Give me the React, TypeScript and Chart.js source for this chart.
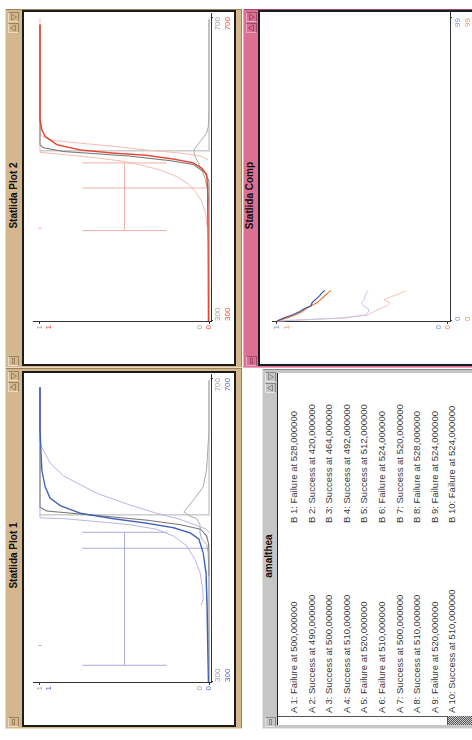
import React, { useEffect, useRef } from 'react';
import { Chart, registerables } from 'chart.js';

Chart.register(...registerables);

// ---------------- data: Statlida Plot 1 (blue) ----------------
const P1_MAIN_X = [300, 350, 404, 444, 470, 488, 496, 503, 509, 515, 522, 532, 542, 557, 580, 606, 632, 688];
const P1_MAIN_Y = [0.004, 0.007, 0.012, 0.018, 0.035, 0.06, 0.11, 0.21, 0.37, 0.57, 0.76, 0.88, 0.94, 0.97, 0.99, 0.995, 1.0, 1.0];
const P1_REF_X = [300, 470, 481, 492, 501, 507, 513, 519, 525, 530, 688];
const P1_REF_Y = [0, 0, 0.002, 0.014, 0.05, 0.17, 0.37, 0.66, 0.96, 1.0, 1.0];
const P1_STEP_X = [520, 520, 697];
const P1_STEP_Y = [1.0, 0, 0];
const P1_DENS_X = [440, 470, 481, 488, 496, 507, 515, 519, 524, 529, 542, 557, 580, 632, 697];
const P1_DENS_Y = [0, 0.005, 0.014, 0.043, 0.053, 0.053, 0.073, 0.12, 0.148, 0.13, 0.083, 0.034, 0.014, 0, 0];
const P1_UPPER_X = [401, 409, 422, 444, 461, 479, 492, 501, 507, 511, 515, 516, 612];
const P1_UPPER_Y = [0.047, 0.034, 0.037, 0.053, 0.083, 0.13, 0.21, 0.31, 0.47, 0.66, 0.86, 1.0, 1.0];
const P1_LOWER_X = [496, 501, 506, 514, 522, 533, 548, 571, 588, 605, 614, 688];
const P1_LOWER_Y = [0, 0.014, 0.073, 0.17, 0.31, 0.47, 0.66, 0.86, 0.94, 0.98, 1.0, 1.0];
const P1_INTERVAL = [322, 497];
const P1_MARKER = 476;
const P1_DOT_X = 348;

// ---------------- data: Statlida Plot 2 (red) ----------------
const P2_MAIN_X = [300, 400, 450, 477, 493, 501, 508, 513, 518, 521, 525, 532, 543, 552, 565, 690];
const P2_MAIN_Y = [0.004, 0.005, 0.007, 0.009, 0.014, 0.043, 0.093, 0.21, 0.37, 0.57, 0.76, 0.9, 0.97, 0.99, 1.0, 1.0];
const P2_REF_X = [300, 484, 495, 506, 511, 517, 520, 523, 528, 532, 690];
const P2_REF_Y = [0, 0, 0.024, 0.093, 0.23, 0.47, 0.66, 0.86, 0.98, 1.0, 1.0];
const P2_STEP_X = [524, 524, 697];
const P2_STEP_Y = [1.0, 0, 0];
const P2_DENS_X = [455, 473, 488, 499, 508, 517, 523, 527, 536, 547, 556, 578, 697];
const P2_DENS_Y = [0, 0.01, 0.024, 0.043, 0.063, 0.083, 0.089, 0.083, 0.053, 0.014, 0.004, 0, 0];
const P2_UPPER_X = [425, 442, 458, 470, 480, 490, 498, 504, 510, 515, 519, 522, 698];
const P2_UPPER_Y = [0.012, 0.02, 0.045, 0.08, 0.12, 0.19, 0.28, 0.38, 0.5, 0.68, 0.86, 1.0, 1.0];
const P2_LOWER_X = [512, 517, 521, 525, 530, 534, 538, 545];
const P2_LOWER_Y = [0.004, 0.05, 0.17, 0.37, 0.57, 0.76, 0.94, 1.0];
const P2_INTERVAL = [419, 508];
const P2_MARKER = 475;
const P2_DOT_X = 422;

// shared levels of the interval glyph (in probability units)
const BAR_LEVEL = 0.5;
const CAP_SPAN = [0.25, 0.75];
const MARK_SPAN = [0, 0.75];
const DOT_LEVEL = 1.0;

// ---------------- data: Statlida Comp ----------------
const COMP_X = [0, 1, 2, 3, 4, 5, 6, 7, 8, 9, 10];
const COMP_BLUE = [1.0, 0.96, 0.91, 0.87, 0.84, 0.8, 0.795, 0.775, 0.755, 0.74, 0.72];
const COMP_ORANGE = [1.0, 0.94, 0.895, 0.855, 0.83, 0.8, 0.765, 0.745, 0.725, 0.705, 0.685];
const COMP_LAVENDER = [1.0, 0.62, 0.48, 0.465, 0.466, 0.495, 0.505, 0.49, 0.485, 0.478, 0.468];
const COMP_PINK = [1.0, 0.6, 0.47, 0.435, 0.4, 0.355, 0.34, 0.375, 0.33, 0.28, 0.245];

// ---------------- tick labels ----------------
const PLOT_X_TICKS = [300, 700];
const PROB_TICKS = [0, 1];
const COMP_X_TICKS = [0, 99];

// ---------------- amalthea log ----------------
const A_RESULTS = ['Failure', 'Success', 'Success', 'Success', 'Failure', 'Failure', 'Success', 'Success', 'Failure', 'Success'];
const A_VALUES = [500, 490, 500, 510, 520, 510, 500, 510, 520, 510];
const B_RESULTS = ['Failure', 'Success', 'Success', 'Success', 'Success', 'Failure', 'Success', 'Failure', 'Failure', 'Failure'];
const B_VALUES = [528, 420, 464, 492, 512, 524, 520, 528, 524, 524];

// ---------------- styling ----------------
const FONT = '"Liberation Sans", Arial, Helvetica, sans-serif';
const AXIS = '#333333';
const TAN = '#d4b78e';
const TAN_L = '#eadbc2';
const TAN_D = '#9c8360';
const PINK = '#db7093';
const PINK_L = '#eea6bf';
const PINK_D = '#a24a69';
const GREY = '#c6c6c6';
const GREY_L = '#e6e6e6';
const GREY_D = '#8a8a8a';

Chart.defaults.font.family = FONT;

function curve(xs: number[], ys: number[], color: string, width = 1) {
  return {
    data: xs.map((x, i) => ({ x, y: ys[i] })),
    showLine: true,
    borderColor: color,
    backgroundColor: color,
    borderWidth: width,
    pointRadius: 0,
    pointHoverRadius: 0,
    tension: 0,
    fill: false,
    xAxisID: 'x',
    yAxisID: 'y',
  };
}

function dot(x: number, y: number, color: string) {
  return {
    data: [{ x, y }],
    showLine: false,
    pointStyle: 'line',
    rotation: 90,
    pointRadius: 1.6,
    borderColor: color,
    backgroundColor: color,
    borderWidth: 1,
    xAxisID: 'x',
    yAxisID: 'y',
  };
}

function intervalSets(range: number[], marker: number, dotX: number, color: string) {
  return [
    curve([range[0], range[1]], [BAR_LEVEL, BAR_LEVEL], color),
    curve([range[0], range[0]], CAP_SPAN, color),
    curve([range[1], range[1]], CAP_SPAN, color),
    curve([marker, marker], MARK_SPAN, color),
    dot(dotX, DOT_LEVEL, color),
  ];
}

type AxOpts = {
  xMin: number; xMax: number; yMin: number; yMax: number;
  xTicks: number[]; yTicks: number[];
  c1: string; c2: string;
  xPad1: number; xPad2: number; yLine: number;
};

const AXIS_BAND = 11; // height of each bottom label band
const Y_BAND = 14; // width of the left label band

function noPad(s: any) {
  s.paddingLeft = 0;
  s.paddingRight = 0;
  s.paddingTop = 0;
  s.paddingBottom = 0;
}

function buildScales(o: AxOpts) {
  const fontX = { family: FONT, size: 8, lineHeight: 1 };
  const fontY = { family: FONT, size: 8, lineHeight: o.yLine };
  const setT = (vals: number[]) => (s: any) => { s.ticks = vals.map((v) => ({ value: v })); };
  const fixH = (s: any) => { s.height = AXIS_BAND; noPad(s); };
  const fixW = (s: any) => { s.width = Y_BAND; noPad(s); };
  const n = o.yTicks.length;
  const lo = o.yTicks[0];
  const hi = o.yTicks[n - 1];
  // the y axis carries each tick twice: first in colour 1, then in colour 2 (one line lower)
  const yTickList = [...o.yTicks, ...o.yTicks];
  return {
    x: {
      type: 'linear', position: 'bottom', min: o.xMin, max: o.xMax, weight: 1,
      afterFit: fixH, afterBuildTicks: setT(o.xTicks),
      border: { display: true, color: AXIS, width: 1 },
      grid: { display: true, drawOnChartArea: false, drawTicks: true, tickLength: 2, color: AXIS },
      ticks: { color: o.c1, font: fontX, padding: o.xPad1, align: 'inner', autoSkip: false, maxRotation: 0, minRotation: 0, callback: (v: any) => String(v) },
    },
    x2: {
      type: 'linear', position: 'bottom', min: o.xMin, max: o.xMax, weight: 2,
      afterFit: fixH, afterBuildTicks: setT(o.xTicks),
      border: { display: false },
      grid: { display: false, drawTicks: false },
      ticks: { color: o.c2, font: fontX, padding: o.xPad2, align: 'inner', autoSkip: false, maxRotation: 0, minRotation: 0, callback: (v: any) => String(v) },
    },
    y: {
      type: 'linear', position: 'left', min: o.yMin, max: o.yMax, weight: 1,
      afterFit: fixW, afterBuildTicks: setT(yTickList),
      border: { display: true, color: AXIS, width: 1 },
      grid: { display: true, drawOnChartArea: false, drawTicks: true, tickLength: 2, color: AXIS },
      ticks: {
        font: fontY,
        padding: 1,
        autoSkip: false,
        color: (ctx: any) => (ctx.index < n ? o.c1 : o.c2),
        callback: (v: any, i: number) => {
          const s = String(v);
          if (i < n) return v === lo ? [s, ''] : s;
          return v === hi ? ['', s] : s;
        },
      },
    },
  };
}

function ChartCanvas({ width, height, make }: { width: number; height: number; make: () => any }) {
  const ref = useRef<HTMLCanvasElement | null>(null);
  useEffect(() => {
    if (!ref.current) return;
    const chart = new Chart(ref.current, make());
    return () => chart.destroy();
  }, []);
  return <canvas ref={ref} width={width} height={height} style={{ position: 'absolute', left: 0, top: 0, width, height }} />;
}

function config(datasets: any[], scales: any, padding: any) {
  return {
    type: 'scatter',
    data: { datasets },
    options: {
      animation: false,
      responsive: false,
      devicePixelRatio: 1,
      events: [],
      layout: { padding, autoPadding: false },
      plugins: { legend: { display: false }, tooltip: { enabled: false }, title: { display: false } },
      scales,
    },
  };
}

const PLOT_X_RANGE = { xMin: 298.68, xMax: 703.95 };
const PROB_RANGE = { yMin: -0.0118, yMax: 1.0414 };
const PLOT_PAD = { left: 42 - Y_BAND, right: 2, top: 9, bottom: 23 - 2 * AXIS_BAND };
const COMP_PAD = { left: 42 - Y_BAND, right: 1, top: 12, bottom: 22 - 2 * AXIS_BAND };

function plot1Config() {
  const ds = [
    curve(P1_MAIN_X, P1_MAIN_Y, '#4060b8', 1.4),
    curve(P1_REF_X, P1_REF_Y, '#7c7c7c', 1.1),
    ...intervalSets(P1_INTERVAL, P1_MARKER, P1_DOT_X, '#aaaadc'),
    curve(P1_UPPER_X, P1_UPPER_Y, '#b6b6e4', 1),
    curve(P1_LOWER_X, P1_LOWER_Y, '#b6b6e4', 1),
    curve(P1_DENS_X, P1_DENS_Y, '#a9a9a9', 1),
    curve(P1_STEP_X, P1_STEP_Y, '#cdcdcd', 1.5),
  ];
  const scales = buildScales({ ...PLOT_X_RANGE, ...PROB_RANGE, xTicks: PLOT_X_TICKS, yTicks: PROB_TICKS, c1: '#a0a0a0', c2: '#4a6ad0', xPad1: 1, xPad2: 2, yLine: 2.25 });
  return config(ds, scales, PLOT_PAD);
}

function plot2Config() {
  const ds = [
    curve(P2_MAIN_X, P2_MAIN_Y, '#e8432f', 1.4),
    curve(P2_REF_X, P2_REF_Y, '#7c7c7c', 1.1),
    ...intervalSets(P2_INTERVAL, P2_MARKER, P2_DOT_X, '#f4b0aa'),
    curve(P2_UPPER_X, P2_UPPER_Y, '#f7bab2', 1),
    curve(P2_LOWER_X, P2_LOWER_Y, '#f7bab2', 1),
    curve(P2_DENS_X, P2_DENS_Y, '#a9a9a9', 1),
    curve(P2_STEP_X, P2_STEP_Y, '#cdcdcd', 1.5),
  ];
  const scales = buildScales({ ...PLOT_X_RANGE, ...PROB_RANGE, xTicks: PLOT_X_TICKS, yTicks: PROB_TICKS, c1: '#a0a0a0', c2: '#ff4530', xPad1: 1, xPad2: 2, yLine: 2.25 });
  return config(ds, scales, PLOT_PAD);
}

function compConfig() {
  const ds = [
    curve(COMP_X, COMP_BLUE, '#3a5aa8', 1.2),
    curve(COMP_X, COMP_ORANGE, '#f07434', 1.2),
    curve(COMP_X, COMP_LAVENDER, '#c2c2ec', 1),
    curve(COMP_X, COMP_PINK, '#f8c2b2', 1),
  ];
  const scales = buildScales({ xMin: -0.327, xMax: 100.63, yMin: -0.0117, yMax: 1.0292, xTicks: COMP_X_TICKS, yTicks: PROB_TICKS, c1: '#7f8fd0', c2: '#ff8a5a', xPad1: 2, xPad2: 3, yLine: 2.4 });
  return config(ds, scales, COMP_PAD);
}

function Btn({ x, y, bg, light, dark, kind }: { x: number; y: number; bg: string; light: string; dark: string; kind: 'menu' | 'up' | 'down' }) {
  return (
    <div style={{ position: 'absolute', left: x, top: y, width: 10, height: 11, boxSizing: 'border-box', background: bg, borderStyle: 'solid', borderWidth: 1, borderColor: `${light} ${dark} ${dark} ${light}` }}>
      <svg width={8} height={9} style={{ position: 'absolute', left: 0, top: 0 }}>
        {kind === 'menu' && <rect x={1.5} y={3.5} width={5} height={2} fill="none" stroke={dark} strokeWidth={1} />}
        {kind === 'up' && <polygon points="1,6.5 4,1.5 7,6.5" fill="none" stroke={dark} strokeWidth={1} />}
        {kind === 'down' && <polygon points="1,2.5 4,7.5 7,2.5" fill="none" stroke={dark} strokeWidth={1} />}
      </svg>
    </div>
  );
}

function Win({ x, y, w, h, bg, light, dark, title, barH, textTop, children }: any) {
  return (
    <div style={{ position: 'absolute', left: x, top: y, width: w, height: h, background: bg, boxShadow: `inset 1px 1px 0 ${light}, inset -1px -1px 0 ${dark}` }}>
      <Btn x={2} y={3} bg={bg} light={light} dark={dark} kind="menu" />
      <Btn x={w - 24} y={3} bg={bg} light={light} dark={dark} kind="up" />
      <Btn x={w - 13} y={3} bg={bg} light={light} dark={dark} kind="down" />
      <div style={{ position: 'absolute', left: 14, right: 28, top: textTop, height: barH - textTop, lineHeight: `${barH - textTop}px`, textAlign: 'center', font: `bold 10px ${FONT}`, color: '#111', whiteSpace: 'nowrap' }}>{title}</div>
      {children}
    </div>
  );
}

function PlotBox({ left, top, w, h, children }: any) {
  return (
    <div style={{ position: 'absolute', left, top, width: w, height: h, boxSizing: 'border-box', border: '2px solid #1c1c1c', background: '#fff', overflow: 'hidden' }}>
      {children}
    </div>
  );
}

function LogLine({ label, i, result, value, left, top }: any) {
  return (
    <div style={{ position: 'absolute', left, top, height: 12, lineHeight: '12px', font: `9.5px ${FONT}`, color: '#3a3a3a', whiteSpace: 'pre' }}>
      {`${label} ${i + 1}: ${result} at ${value},000000`}
    </div>
  );
}

export default function App() {
  return (
    <div style={{ position: 'fixed', left: 0, top: 0, width: 472, height: 740, overflow: 'hidden', background: '#fff' }}>
      <div style={{ position: 'absolute', left: 0, top: 0, width: 740, height: 472, transformOrigin: '0 0', transform: 'translateY(740px) rotate(-90deg)', background: '#fff' }}>
        {/* Statlida Plot 1 */}
        <Win x={11} y={5} w={361} h={237} bg={TAN} light={TAN_L} dark={TAN_D} title="Statlida Plot 1" barH={17} textTop={3}>
          <PlotBox left={2} top={17} w={356} h={214}>
            <ChartCanvas width={352} height={210} make={plot1Config} />
          </PlotBox>
        </Win>
        {/* Statlida Plot 2 */}
        <Win x={372} y={5} w={359} h={237} bg={TAN} light={TAN_L} dark={TAN_D} title="Statlida Plot 2" barH={17} textTop={3}>
          <PlotBox left={2} top={17} w={356} h={214}>
            <ChartCanvas width={352} height={210} make={plot2Config} />
          </PlotBox>
        </Win>
        {/* Statlida Comp */}
        <Win x={372} y={243} w={359} h={240} bg={PINK} light={PINK_L} dark={PINK_D} title="Statlida Comp" barH={15} textTop={1}>
          <PlotBox left={2} top={15} w={356} h={230}>
            <ChartCanvas width={352} height={212} make={compConfig} />
          </PlotBox>
        </Win>
        {/* amalthea */}
        <Win x={11} y={262} w={360} h={230} bg={GREY} light={GREY_L} dark={GREY_D} title="amalthea" barH={15} textTop={1}>
          <div style={{ position: 'absolute', left: 4, top: 15, width: 352, height: 220, background: '#fff', borderTop: '1px solid #222', boxSizing: 'border-box' }}>
            <div style={{ position: 'absolute', left: 0, top: 0, width: 9, height: 170, background: '#fff', boxSizing: 'border-box', borderRight: '1px solid #555', borderBottom: '1px solid #555' }} />
            <div style={{ position: 'absolute', left: 0, top: 170, width: 9, height: 60, background: 'repeating-conic-gradient(#5a5a5a 0% 25%, #c8c8c8 0% 50%) 0 0 / 2px 2px' }} />
            {A_VALUES.map((v, i) => (
              <LogLine key={'a' + i} label="A" i={i} result={A_RESULTS[i]} value={v} left={12} top={10 + i * 17.6} />
            ))}
            {B_VALUES.map((v, i) => (
              <LogLine key={'b' + i} label="B" i={i} result={B_RESULTS[i]} value={v} left={202} top={10 + i * 17.6} />
            ))}
          </div>
        </Win>
      </div>
    </div>
  );
}
